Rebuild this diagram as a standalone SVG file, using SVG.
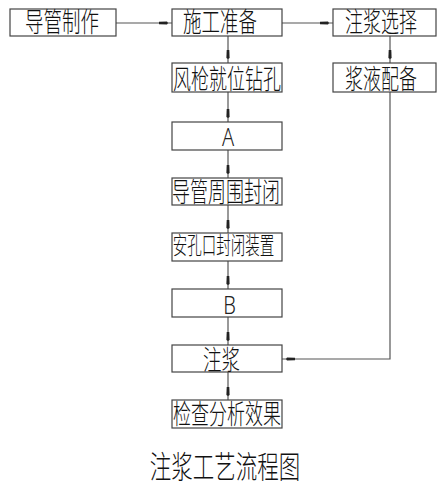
<svg xmlns="http://www.w3.org/2000/svg" width="446" height="488" viewBox="0 0 446 488">
<style>
.box{fill:#fff;stroke:#444;stroke-width:1.2}
.ln{fill:none;stroke:#555;stroke-width:1.2}
.t{font-family:"Noto Sans CJK SC","Noto Sans",sans-serif;font-weight:200;fill:#111;text-anchor:middle}
.l{font-family:"Noto Sans","Liberation Sans",sans-serif;font-weight:300;fill:#222;text-anchor:middle}
</style>
<defs>
<marker id="ah" markerUnits="userSpaceOnUse" markerWidth="16" markerHeight="8" refX="13" refY="0" viewBox="0 -4 16 8" orient="auto">
<polygon points="0,-1.3 8,-1.6 9,0 8,1.6 0,1.3" fill="#222"/>
</marker>
</defs>
<rect width="446" height="488" fill="#fff"/>
<g id="connectors">
<line class="ln" x1="116" y1="23" x2="172" y2="23" marker-end="url(#ah)"/>
<line class="ln" x1="282" y1="23" x2="333" y2="23" marker-end="url(#ah)"/>
<line class="ln" x1="228" y1="36" x2="228" y2="63" marker-end="url(#ah)"/>
<line class="ln" x1="390" y1="36" x2="390" y2="63" marker-end="url(#ah)"/>
<line class="ln" x1="228" y1="92" x2="228" y2="122" marker-end="url(#ah)"/>
<line class="ln" x1="228" y1="150" x2="228" y2="178" marker-end="url(#ah)"/>
<line class="ln" x1="228" y1="205" x2="228" y2="233" marker-end="url(#ah)"/>
<line class="ln" x1="228" y1="261" x2="228" y2="289" marker-end="url(#ah)"/>
<line class="ln" x1="228" y1="317" x2="228" y2="345" marker-end="url(#ah)"/>
<line class="ln" x1="228" y1="372" x2="228" y2="400" marker-end="url(#ah)"/>
<polyline class="ln" points="390,92 390,359 282,359" marker-end="url(#ah)"/>
</g>
<g id="n1"><rect class="box" x="10" y="9" width="106" height="27"/><text class="t" font-size="18.5" transform="translate(62,32) scale(1,1.5)">导管制作</text></g>
<g id="n2"><rect class="box" x="172" y="9" width="110" height="27"/><text class="t" font-size="18.5" transform="translate(220,32) scale(1,1.5)">施工准备</text></g>
<g id="n3"><rect class="box" x="333" y="9" width="103" height="27"/><text class="t" font-size="18" transform="translate(381,32) scale(1,1.5)">注浆选择</text></g>
<g id="n4"><rect class="box" x="172" y="63" width="110" height="29"/><text class="t" font-size="18" transform="translate(227,89) scale(1,1.5)">风枪就位钻孔</text></g>
<g id="n5"><rect class="box" x="333" y="63" width="103" height="29"/><text class="t" font-size="18" transform="translate(381,89) scale(1,1.5)">浆液配备</text></g>
<g id="n6"><rect class="box" x="172" y="122" width="110" height="28"/><text class="l" font-size="20" transform="translate(228,146) scale(1,1.3)">A</text></g>
<g id="n7"><rect class="box" x="172" y="178" width="110" height="27"/><text class="t" font-size="18" transform="translate(226,202) scale(1,1.5)">导管周围封闭</text></g>
<g id="n8"><rect class="box" x="172" y="233" width="110" height="28"/><text class="t" font-size="14.5" transform="translate(223.5,254) scale(1,1.65)">安孔口封闭装置</text></g>
<g id="n9"><rect class="box" x="172" y="289" width="110" height="28"/><text class="l" font-size="20" transform="translate(229.5,314) scale(1,1.3)">B</text></g>
<g id="n10"><rect class="box" x="172" y="345" width="110" height="27"/><text class="t" font-size="18.5" transform="translate(221.5,370) scale(1,1.5)">注浆</text></g>
<g id="n11"><rect class="box" x="172" y="400" width="110" height="28"/><text class="t" font-size="18" transform="translate(227,424) scale(1,1.5)">检查分析效果</text></g>
<text class="t" font-size="21.5" transform="translate(225,478) scale(1,1.45)">注浆工艺流程图</text>
</svg>
